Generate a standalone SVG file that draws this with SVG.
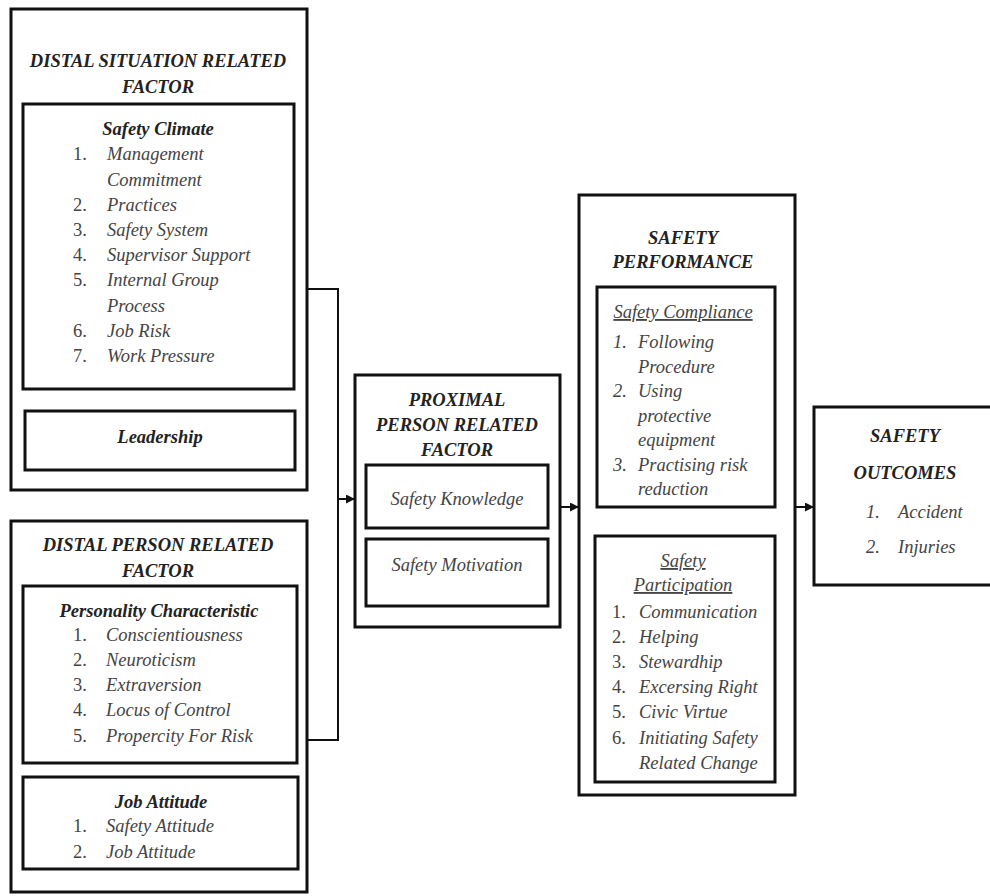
<svg xmlns="http://www.w3.org/2000/svg" width="990" height="896" viewBox="0 0 990 896">
<defs>
<style>
.box{fill:#fff;stroke:#111;stroke-width:3}
.ibox{fill:none;stroke:#111;stroke-width:3}
.h{font-family:"Liberation Serif","Times New Roman",serif;font-size:18.5px;font-weight:bold;font-style:italic;fill:#222;text-anchor:middle}
.it{font-family:"Liberation Serif","Times New Roman",serif;font-size:18.5px;font-style:italic;fill:#444}
.n{font-family:"Liberation Serif","Times New Roman",serif;font-size:18.5px;fill:#444}
.c{text-anchor:middle}
.u{text-decoration:underline}
.con{fill:none;stroke:#111;stroke-width:2}
</style>
<marker id="arr" viewBox="0 0 10 10" refX="10" refY="5" markerWidth="10" markerHeight="9" markerUnits="userSpaceOnUse" orient="auto">
<path d="M0,0 L10,5 L0,10 z" fill="#111"/>
</marker>
</defs>
<rect width="990" height="896" fill="#fff"/>

<g id="distal-situation">
<rect class="box" x="11" y="9" width="296" height="481"/>
<text class="h" x="158" y="67">DISTAL SITUATION RELATED</text>
<text class="h" x="158" y="93">FACTOR</text>
<rect class="ibox" x="23" y="104" width="271" height="285"/>
<text class="h" x="158" y="135">Safety Climate</text>
<text class="n" x="73" y="160">1.</text><text class="it" x="107" y="160">Management</text>
<text class="it" x="107" y="186">Commitment</text>
<text class="n" x="73" y="211">2.</text><text class="it" x="107" y="211">Practices</text>
<text class="n" x="73" y="236">3.</text><text class="it" x="107" y="236">Safety System</text>
<text class="n" x="73" y="261">4.</text><text class="it" x="107" y="261">Supervisor Support</text>
<text class="n" x="73" y="286">5.</text><text class="it" x="107" y="286">Internal Group</text>
<text class="it" x="107" y="312">Process</text>
<text class="n" x="73" y="337">6.</text><text class="it" x="107" y="337">Job Risk</text>
<text class="n" x="73" y="362">7.</text><text class="it" x="107" y="362">Work Pressure</text>
<rect class="ibox" x="25" y="411" width="270" height="59"/>
<text class="h" x="160" y="443">Leadership</text>
</g>

<g id="distal-person">
<rect class="box" x="11" y="521" width="296" height="371"/>
<text class="h" x="158" y="551">DISTAL PERSON RELATED</text>
<text class="h" x="158" y="577">FACTOR</text>
<rect class="ibox" x="23" y="586" width="274" height="177"/>
<text class="h" x="159" y="617">Personality Characteristic</text>
<text class="n" x="73" y="641">1.</text><text class="it" x="106" y="641">Conscientiousness</text>
<text class="n" x="73" y="666">2.</text><text class="it" x="106" y="666">Neuroticism</text>
<text class="n" x="73" y="691">3.</text><text class="it" x="106" y="691">Extraversion</text>
<text class="n" x="73" y="716">4.</text><text class="it" x="106" y="716">Locus of Control</text>
<text class="n" x="73" y="742">5.</text><text class="it" x="106" y="742">Propercity For Risk</text>
<rect class="ibox" x="23" y="777" width="275" height="92"/>
<text class="h" x="161" y="808">Job Attitude</text>
<text class="n" x="73" y="832">1.</text><text class="it" x="106" y="832">Safety Attitude</text>
<text class="n" x="73" y="858">2.</text><text class="it" x="106" y="858">Job Attitude</text>
</g>

<g id="proximal-person">
<rect class="box" x="355" y="375" width="205" height="252"/>
<text class="h" x="457" y="406">PROXIMAL</text>
<text class="h" x="457" y="431">PERSON RELATED</text>
<text class="h" x="457" y="456">FACTOR</text>
<rect class="ibox" x="366" y="465" width="182" height="63"/>
<text class="it c" x="457" y="505">Safety Knowledge</text>
<rect class="ibox" x="366" y="539" width="182" height="67"/>
<text class="it c" x="457" y="571">Safety Motivation</text>
</g>

<g id="safety-performance">
<rect class="box" x="579" y="195" width="216" height="600"/>
<text class="h" x="683" y="244">SAFETY</text>
<text class="h" x="683" y="268">PERFORMANCE</text>
<rect class="ibox" x="597" y="287" width="178" height="220"/>
<text class="it c u" x="683" y="318">Safety Compliance</text>
<text class="it" x="613" y="348">1.</text><text class="it" x="638" y="348">Following</text>
<text class="it" x="638" y="372.5">Procedure</text>
<text class="it" x="613" y="397">2.</text><text class="it" x="638" y="397">Using</text>
<text class="it" x="638" y="421.5">protective</text>
<text class="it" x="638" y="446">equipment</text>
<text class="it" x="613" y="470.5">3.</text><text class="it" x="638" y="470.5">Practising risk</text>
<text class="it" x="638" y="495">reduction</text>
<rect class="ibox" x="595" y="536" width="180" height="246"/>
<text class="it c u" x="683" y="567">Safety</text>
<text class="it c u" x="683" y="591">Participation</text>
<text class="n" x="612" y="618">1.</text><text class="it" x="639" y="618">Communication</text>
<text class="n" x="612" y="643">2.</text><text class="it" x="639" y="643">Helping</text>
<text class="n" x="612" y="668">3.</text><text class="it" x="639" y="668">Stewardhip</text>
<text class="n" x="612" y="693">4.</text><text class="it" x="639" y="693">Excersing Right</text>
<text class="n" x="612" y="718">5.</text><text class="it" x="639" y="718">Civic Virtue</text>
<text class="n" x="612" y="744">6.</text><text class="it" x="639" y="744">Initiating Safety</text>
<text class="it" x="639" y="769">Related Change</text>
</g>

<g id="safety-outcomes">
<rect class="box" x="814" y="407" width="182" height="178"/>
<text class="h" x="905" y="442">SAFETY</text>
<text class="h" x="905" y="479">OUTCOMES</text>
<text class="it" x="866" y="518">1.</text><text class="it" x="898" y="518">Accident</text>
<text class="it" x="866" y="553">2.</text><text class="it" x="898" y="553">Injuries</text>
</g>

<g id="connectors">
<polyline class="con" points="307,289 338,289 338,740 307,740"/>
<line class="con" x1="338" y1="499" x2="355" y2="499" marker-end="url(#arr)"/>
<line class="con" x1="560" y1="507" x2="579" y2="507" marker-end="url(#arr)"/>
<line class="con" x1="795" y1="507" x2="814" y2="507" marker-end="url(#arr)"/>
</g>
</svg>
